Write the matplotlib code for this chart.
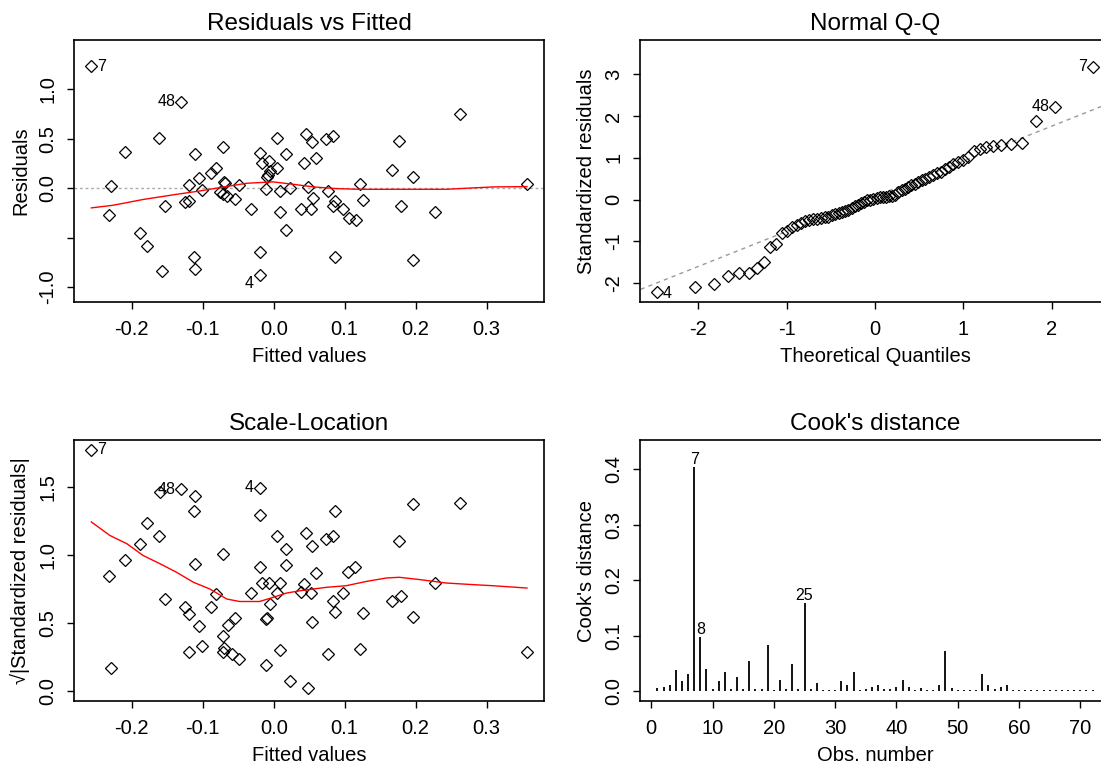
import matplotlib
matplotlib.use("Agg")
import matplotlib.pyplot as plt

plt.rcParams['font.family'] = ['Liberation Sans', 'DejaVu Sans']
plt.rcParams['axes.unicode_minus'] = False

# ---- Residuals vs Fitted ----
fitted = [-0.257, -0.131, 0.262, -0.161, 0.004, 0.045, 0.054, 0.074, 0.084, 0.176,
          -0.210, -0.111, -0.071, -0.020, 0.018, 0.059, -0.017, -0.006, 0.043, -0.081,
          -0.088, 0.004, -0.005, -0.010, -0.008, 0.167, 0.196, -0.106, -0.230, -0.119,
          -0.070, -0.068, -0.071, -0.066, -0.049, -0.101, -0.011, 0.009, 0.023, 0.049,
          0.077, 0.122, 0.357, -0.054, -0.125, -0.120, -0.153, -0.232, -0.032, 0.009,
          0.038, 0.052, 0.055, 0.086, 0.083, 0.097, 0.106, 0.116, 0.126, 0.180,
          0.228, 0.018, -0.188, -0.178, -0.113, -0.111, -0.157, -0.020, -0.020, 0.086,
          0.196, -0.075]
resid = [1.235, 0.874, 0.747, 0.512, 0.512, 0.549, 0.464, 0.498, 0.532, 0.481,
         0.369, 0.352, 0.416, 0.355, 0.352, 0.304, 0.253, 0.273, 0.256, 0.201,
         0.154, 0.205, 0.177, 0.119, 0.130, 0.188, 0.119, 0.106, 0.020, 0.038,
         0.065, 0.055, -0.061, -0.078, 0.034, -0.020, -0.010, -0.027, 0.003, 0.010,
         -0.031, 0.041, 0.041, -0.109, -0.140, -0.126, -0.174, -0.273, -0.205, -0.239,
         -0.205, -0.205, -0.096, -0.126, -0.174, -0.208, -0.300, -0.321, -0.123, -0.174,
         -0.239, -0.420, -0.451, -0.584, -0.696, -0.816, -0.833, -0.648, -0.877, -0.696,
         -0.730, -0.040]
smooth1_x = [-0.257, -0.226, -0.184, -0.137, -0.104, -0.076, -0.038, -0.001, 0.027,
             0.056, 0.088, 0.121, 0.168, 0.243, 0.309, 0.357]
smooth1_y = [-0.198, -0.171, -0.113, -0.061, -0.027, 0.007, 0.051, 0.065, 0.041,
             0.014, -0.003, -0.010, -0.010, -0.010, 0.014, 0.017]

# ---- Normal Q-Q ----
theo_q = [-2.46, -2.04, -1.815, -1.659, -1.534, -1.430, -1.339, -1.258, -1.184, -1.117,
          -1.055, -0.996, -0.940, -0.887, -0.837, -0.788, -0.742, -0.697, -0.653, -0.610,
          -0.569, -0.528, -0.489, -0.450, -0.411, -0.374, -0.337, -0.300, -0.264, -0.228,
          -0.193, -0.157, -0.122, -0.087, -0.052, -0.017, 0.017, 0.052, 0.087, 0.122,
          0.157, 0.193, 0.228, 0.264, 0.300, 0.337, 0.374, 0.411, 0.450, 0.489,
          0.528, 0.569, 0.610, 0.653, 0.697, 0.742, 0.788, 0.837, 0.887, 0.940,
          0.996, 1.055, 1.117, 1.184, 1.258, 1.339, 1.430, 1.534, 1.659, 1.815,
          2.04, 2.46]
std_resid = [-2.22, -2.10, -2.01, -1.83, -1.76, -1.75, -1.645, -1.49, -1.14, -1.06,
             -0.81, -0.76, -0.66, -0.60, -0.55, -0.52, -0.49, -0.47, -0.46, -0.45,
             -0.43, -0.41, -0.38, -0.35, -0.33, -0.30, -0.27, -0.24, -0.20, -0.16,
             -0.12, -0.09, -0.05, -0.02, 0.00, 0.02, 0.04, 0.05, 0.06, 0.07,
             0.08, 0.09, 0.12, 0.17, 0.22, 0.26, 0.30, 0.34, 0.38, 0.42,
             0.46, 0.50, 0.55, 0.59, 0.63, 0.67, 0.72, 0.79, 0.85, 0.90,
             0.95, 1.01, 1.17, 1.21, 1.25, 1.29, 1.31, 1.32, 1.36, 1.89,
             2.215, 3.18]
qqline_x = [-3.0, 3.0]
qqline_y = [-2.443, 2.597]

# ---- Scale-Location ----
sl_fitted = [-0.257, -0.131, -0.160, -0.111, -0.020, -0.113, -0.020, 0.086, 0.196, 0.262,
             -0.178, -0.161, -0.188, -0.210, -0.232, -0.230, -0.111, -0.071, 0.004, 0.045,
             0.054, 0.018, 0.074, 0.084, 0.176, -0.020, 0.018, 0.059, -0.017, -0.006,
             0.009, 0.043, 0.105, 0.115, 0.228, -0.081, -0.032, 0.004, 0.038, 0.052,
             0.097, 0.167, 0.180, -0.153, -0.125, -0.120, -0.088, -0.005, 0.083, 0.086,
             0.126, 0.196, -0.011, -0.010, -0.054, -0.065, -0.106, 0.054, -0.071, -0.101,
             -0.120, -0.070, -0.071, -0.059, -0.049, 0.009, 0.077, 0.122, 0.357, -0.011,
             0.023, 0.049]
sl_sqrt = [1.779, 1.485, 1.463, 1.438, 1.498, 1.330, 1.295, 1.330, 1.379, 1.389,
           1.236, 1.140, 1.081, 0.965, 0.846, 0.170, 0.940, 1.009, 1.140, 1.165,
           1.068, 1.046, 1.118, 1.140, 1.105, 0.918, 0.928, 0.868, 0.794, 0.794,
           0.794, 0.787, 0.881, 0.918, 0.797, 0.713, 0.725, 0.720, 0.730, 0.725,
           0.725, 0.666, 0.703, 0.678, 0.622, 0.572, 0.622, 0.641, 0.666, 0.585,
           0.575, 0.550, 0.535, 0.538, 0.538, 0.491, 0.479, 0.513, 0.407, 0.336,
           0.289, 0.321, 0.291, 0.276, 0.237, 0.301, 0.276, 0.311, 0.289, 0.192,
           0.076, 0.027]
smooth3_x = [-0.257, -0.231, -0.207, -0.184, -0.160, -0.137, -0.113, -0.090, -0.066,
             -0.048, -0.020, -0.001, 0.018, 0.037, 0.074, 0.102, 0.131, 0.159, 0.177,
             0.206, 0.243, 0.281, 0.309, 0.357]
smooth3_y = [1.246, 1.147, 1.086, 0.999, 0.938, 0.876, 0.802, 0.753, 0.679,
             0.661, 0.661, 0.691, 0.723, 0.740, 0.765, 0.777, 0.809, 0.834, 0.839,
             0.822, 0.797, 0.785, 0.777, 0.760]

# ---- Cook's distance ----
obs = list(range(1, 73))
cooks = [0.006, 0.008, 0.011, 0.038, 0.018, 0.032, 0.405, 0.098, 0.041, 0.004,
         0.018, 0.035, 0.004, 0.026, 0.004, 0.055, 0.004, 0.004, 0.084, 0.003,
         0.021, 0.004, 0.050, 0.004, 0.159, 0.004, 0.015, 0.002, 0.002, 0.002,
         0.018, 0.012, 0.035, 0.003, 0.004, 0.007, 0.011, 0.004, 0.004, 0.007,
         0.021, 0.007, 0.003, 0.006, 0.002, 0.002, 0.012, 0.072, 0.006, 0.002,
         0.002, 0.002, 0.003, 0.032, 0.011, 0.004, 0.008, 0.011, 0.003, 0.003,
         0.003, 0.003, 0.002, 0.003, 0.002, 0.002, 0.003, 0.002, 0.002, 0.002,
         0.002, 0.002]

W, H = 1101, 774
fig = plt.figure(figsize=(W / 100, H / 100), dpi=100)

def make_axes(left, top, width, height):
    ax = fig.add_axes([left / W, 1 - (top + height) / H, width / W, height / H])
    for s in ax.spines.values():
        s.set_linewidth(1.2)
    ax.tick_params(direction='out', length=5, width=1, labelsize=14.5, pad=8)
    ax.tick_params(axis='y', labelrotation=90, pad=7)
    return ax

def finish(ax, title, xlabel, ylabel):
    ax.set_title(title, fontsize=17.5, pad=7)
    ax.set_xlabel(xlabel, fontsize=14.5, labelpad=6)
    ax.set_ylabel(ylabel, fontsize=14.5, labelpad=6)
    for lab in ax.get_yticklabels():
        lab.set_va('center')

mk = dict(marker='D', markersize=6.3, markerfacecolor='none', markeredgecolor='black',
          markeredgewidth=0.9, linestyle='none')
lab_fs = 11.5

# panel 1
ax1 = make_axes(74, 40, 470, 262)
ax1.axhline(0, color='#aaaaaa', linestyle=(0, (2, 2)), linewidth=1)
ax1.plot(fitted, resid, **mk)
ax1.plot(smooth1_x, smooth1_y, color='red', linewidth=1)
ax1.set_xlim(-0.2815, 0.381)
ax1.set_ylim(-1.15, 1.50)
ax1.set_xticks([-0.2, -0.1, 0.0, 0.1, 0.2, 0.3])
ax1.set_xticklabels(['-0.2', '-0.1', '0.0', '0.1', '0.2', '0.3'])
ax1.set_yticks([-1.0, -0.5, 0.0, 0.5, 1.0])
ax1.set_yticklabels(['-1.0', '', '0.0', '0.5', '1.0'])
ax1.annotate('7', (fitted[0], resid[0]), xytext=(4, 0), textcoords='offset points',
             ha='left', va='center', fontsize=lab_fs)
ax1.annotate('48', (fitted[1], resid[1]), xytext=(-4, 0), textcoords='offset points',
             ha='right', va='center', fontsize=lab_fs)
ax1.annotate('4', (fitted[68], resid[68]), xytext=(-4, -6), textcoords='offset points',
             ha='right', va='center', fontsize=lab_fs)
finish(ax1, 'Residuals vs Fitted', 'Fitted values', 'Residuals')

# panel 2
ax2 = make_axes(640, 40, 470, 262)
ax2.plot(qqline_x, qqline_y, color='#999999', linestyle=(0, (3, 3)), linewidth=1)
ax2.plot(theo_q, std_resid, **mk)
ax2.set_xlim(-2.657, 2.657)
ax2.set_ylim(-2.452, 3.817)
ax2.set_xticks([-2, -1, 0, 1, 2])
ax2.set_yticks([-2, -1, 0, 1, 2, 3])
ax2.annotate('4', (theo_q[0], std_resid[0]), xytext=(4, -1), textcoords='offset points',
             ha='left', va='center', fontsize=lab_fs)
ax2.annotate('48', (theo_q[70], std_resid[70]), xytext=(-4, 0), textcoords='offset points',
             ha='right', va='center', fontsize=lab_fs)
ax2.annotate('7', (theo_q[71], std_resid[71]), xytext=(-4, 0), textcoords='offset points',
             ha='right', va='center', fontsize=lab_fs)
finish(ax2, 'Normal Q-Q', 'Theoretical Quantiles', 'Standardized residuals')

# panel 3
ax3 = make_axes(74, 440, 470, 261)
ax3.plot(sl_fitted, sl_sqrt, **mk)
ax3.plot(smooth3_x, smooth3_y, color='red', linewidth=1)
ax3.set_xlim(-0.2815, 0.381)
ax3.set_ylim(-0.071, 1.849)
ax3.set_xticks([-0.2, -0.1, 0.0, 0.1, 0.2, 0.3])
ax3.set_xticklabels(['-0.2', '-0.1', '0.0', '0.1', '0.2', '0.3'])
ax3.set_yticks([0.0, 0.5, 1.0, 1.5])
ax3.set_yticklabels(['0.0', '0.5', '1.0', '1.5'])
ax3.annotate('7', (sl_fitted[0], sl_sqrt[0]), xytext=(4, 0), textcoords='offset points',
             ha='left', va='center', fontsize=lab_fs)
ax3.annotate('48', (sl_fitted[1], sl_sqrt[1]), xytext=(-4, 0), textcoords='offset points',
             ha='right', va='center', fontsize=lab_fs)
ax3.annotate('4', (sl_fitted[4], sl_sqrt[4]), xytext=(-4, 0), textcoords='offset points',
             ha='right', va='center', fontsize=lab_fs)
finish(ax3, 'Scale-Location', 'Fitted values', '√|Standardized residuals|')

# panel 4
ax4 = make_axes(640, 440, 470, 261)
ax4.vlines(obs, 0, cooks, color='black', linewidth=1.3)
ax4.set_xlim(-1.84, 74.84)
ax4.set_ylim(-0.0174, 0.4528)
ax4.set_xticks([0, 10, 20, 30, 40, 50, 60, 70])
ax4.set_yticks([0.0, 0.1, 0.2, 0.3, 0.4])
ax4.set_yticklabels(['0.0', '0.1', '0.2', '0.3', '0.4'])
for i in [6, 7, 24]:
    ax4.annotate(str(obs[i]), (obs[i], cooks[i]), xytext=(0, 0), textcoords='offset points',
                 ha='center', va='bottom', fontsize=lab_fs)
finish(ax4, "Cook's distance", 'Obs. number', "Cook's distance")

fig.savefig('out.png', dpi=100)
